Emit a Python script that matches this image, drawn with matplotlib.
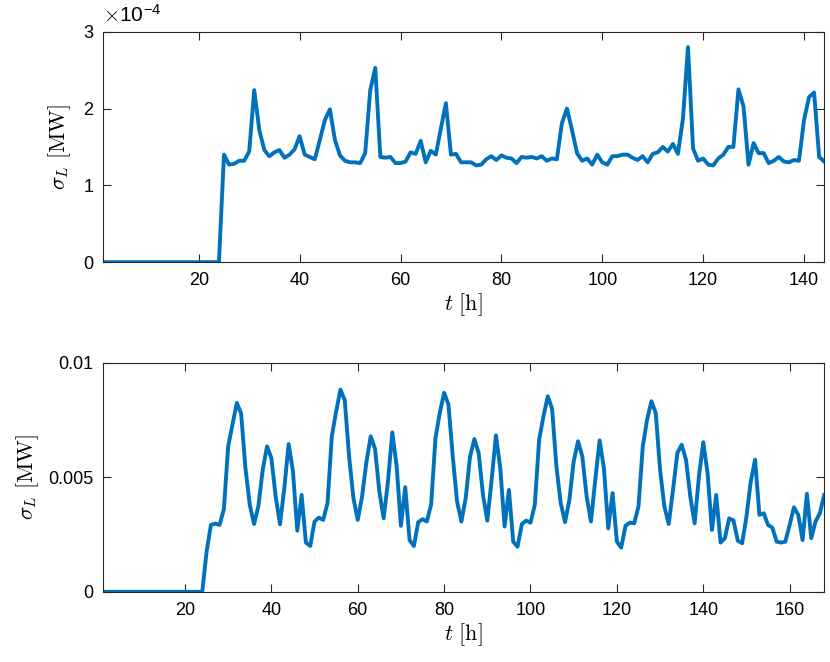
import matplotlib
matplotlib.use("Agg")
from matplotlib import pyplot as plt
from matplotlib.ticker import FuncFormatter
import numpy as np

plt.rcParams["font.family"] = ["Liberation Sans", "DejaVu Sans"]
plt.rcParams["mathtext.fontset"] = "cm"

line_color = "#0072BD"
axis_color = "#262626"

# top panel: sigma_L in units of 1e-4 MW, hours 1..144
sigma_top = [0.0] * 24 + [
    1.40, 1.27, 1.28, 1.32, 1.32, 1.44, 2.24, 1.72, 1.46, 1.38,
    1.43, 1.46, 1.36, 1.40, 1.47, 1.64, 1.40, 1.37, 1.34, 1.59,
    1.85, 1.99, 1.59, 1.39, 1.32, 1.30, 1.30, 1.29, 1.42, 2.24,
    2.53, 1.37, 1.36, 1.37, 1.29, 1.29, 1.31, 1.43, 1.41, 1.58,
    1.30, 1.45, 1.40, 1.74, 2.07, 1.40, 1.41, 1.30, 1.30, 1.30,
    1.26, 1.27, 1.34, 1.38, 1.33, 1.39, 1.36, 1.35, 1.29, 1.37,
    1.36, 1.37, 1.35, 1.38, 1.32, 1.35, 1.34, 1.81, 2.00, 1.72,
    1.42, 1.32, 1.35, 1.27, 1.40, 1.30, 1.27, 1.38, 1.38, 1.40,
    1.40, 1.36, 1.33, 1.38, 1.30, 1.41, 1.43, 1.50, 1.44, 1.54,
    1.41, 1.87, 2.80, 1.48, 1.32, 1.35, 1.27, 1.26, 1.35, 1.40,
    1.50, 1.50, 2.25, 2.03, 1.27, 1.55, 1.42, 1.42, 1.29, 1.32,
    1.37, 1.31, 1.30, 1.33, 1.32, 1.85, 2.15, 2.21, 1.37, 1.31,
]
t_top = np.arange(1, len(sigma_top) + 1)

# bottom panel: sigma_L in units of 1e-3 MW, hours 1..168
sigma_bot = [0.0] * 24 + [
    1.75, 2.92, 2.98, 2.92, 3.60, 6.35, 7.30, 8.25, 7.78, 5.40,
    3.80, 2.96, 3.75, 5.33, 6.35, 5.84, 4.16, 2.95, 4.53, 6.45,
    5.26, 2.67, 4.23, 2.15, 2.00, 3.07, 3.24, 3.14, 3.87, 6.79,
    7.88, 8.83, 8.36, 5.91, 4.09, 3.14, 4.16, 5.65, 6.79, 6.25,
    4.38, 3.21, 4.82, 6.96, 5.50, 2.88, 4.57, 2.26, 2.00, 3.04,
    3.17, 3.07, 3.82, 6.72, 7.81, 8.69, 8.18, 5.91, 3.94, 3.07,
    4.10, 5.90, 6.67, 6.06, 4.23, 3.11, 4.89, 6.83, 5.40, 2.85,
    4.45, 2.19, 1.97, 2.96, 3.11, 3.02, 3.80, 6.64, 7.66, 8.54,
    7.99, 5.47, 3.87, 3.04, 4.01, 5.69, 6.57, 5.91, 4.16, 3.07,
    4.89, 6.61, 5.40, 2.77, 4.31, 2.19, 1.93, 2.88, 3.02, 2.99,
    3.72, 6.35, 7.52, 8.32, 7.81, 5.33, 3.72, 2.96, 4.45, 6.06,
    6.42, 5.77, 4.16, 2.99, 5.04, 6.53, 5.18, 2.70, 4.23, 2.15,
    2.34, 3.21, 3.11, 2.23, 2.12, 3.28, 4.82, 5.77, 3.36, 3.43,
    2.92, 2.80, 2.19, 2.15, 2.19, 2.92, 3.69, 3.36, 2.26, 4.28,
    2.34, 3.07, 3.43, 4.23,
]
t_bot = np.arange(1, len(sigma_bot) + 1)

fig = plt.figure(figsize=(8.3, 6.62), dpi=100)
ax1 = fig.add_axes([0.124, 0.604, 0.869, 0.348])
ax2 = fig.add_axes([0.124, 0.106, 0.869, 0.346])

def style(ax):
    for s in ax.spines.values():
        s.set_color(axis_color)
        s.set_linewidth(0.8)
    ax.tick_params(direction="in", length=6, width=0.8, colors=axis_color,
                   labelcolor="black", labelsize=13, top=True, right=True, pad=7)

ax1.plot(t_top, np.array(sigma_top) * 1e-4, color=line_color, linewidth=2.8)
ax1.set_xlim(1, 144)
ax1.set_ylim(0, 3e-4)
ax1.set_yticks([0, 1e-4, 2e-4, 3e-4])
ax1.yaxis.set_major_formatter(FuncFormatter(lambda v, p: "%g" % round(v / 1e-4, 6)))
ax1.set_xticks([20, 40, 60, 80, 100, 120, 140])
style(ax1)
ax1.text(0.0, 1.02, r"$\times$10$^{\mathregular{-4}}$", transform=ax1.transAxes,
         fontsize=15, ha="left", va="bottom")
ax1.set_xlabel(r"$t\ \mathrm{[h]}$", fontsize=16, labelpad=2)
ax1.set_ylabel(r"$\sigma_L\ \mathrm{[MW]}$", fontsize=16, labelpad=7)

ax2.plot(t_bot, np.array(sigma_bot) * 1e-3, color=line_color, linewidth=2.8)
ax2.set_xlim(1, 168)
ax2.set_ylim(0, 0.01)
ax2.set_yticks([0, 0.005, 0.01])
ax2.set_yticklabels(["0", "0.005", "0.01"])
ax2.set_xticks([20, 40, 60, 80, 100, 120, 140, 160])
style(ax2)
ax2.set_xlabel(r"$t\ \mathrm{[h]}$", fontsize=16, labelpad=2)
ax2.set_ylabel(r"$\sigma_L\ \mathrm{[MW]}$", fontsize=16, labelpad=5)

fig.savefig("out.png", dpi=100)
